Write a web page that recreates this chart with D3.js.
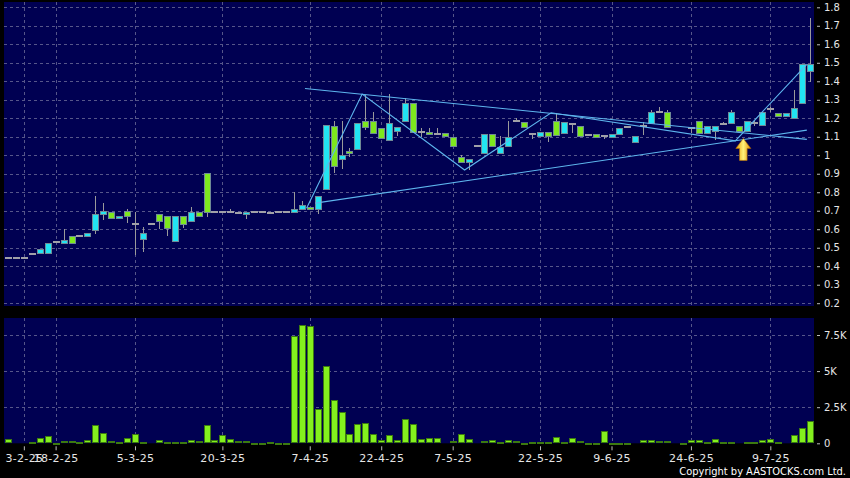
<!DOCTYPE html>
<html><head><meta charset="utf-8">
<script src="https://cdn.jsdelivr.net/npm/d3@7/dist/d3.min.js"></script>
<style>html,body{margin:0;padding:0;background:#000;}svg{display:block;}</style>
</head><body>
<svg id="chart" width="850" height="478"></svg>
<script>
// ---------- DATA ----------
const tickIdx    = [2, 6, 16, 27, 38, 47, 56, 67, 76, 86, 96];
const tickLabels = ["3-2-25","18-2-25","5-3-25","20-3-25","7-4-25","22-4-25","7-5-25","22-5-25","9-6-25","24-6-25","9-7-25"];

const opens = [.447,.447,.443,.464,.470,.470,.530,.528,.561,.564,
 .566,.597,.681,.691,.660,.696,.626,.548,.627,.681,
 .670,.539,.670,.646,.692,.902,.694,.694,.694,.690,
 .680,.694,.694,.690,.694,.694,.691,.707,.720,.707,
 .818,1.159,.978,1.022,1.032,1.183,1.183,1.149,1.080,1.129,
 1.183,1.280,1.127,1.127,1.114,1.118,1.100,.988,.963,1.048,
 1.010,1.113,1.010,1.048,1.186,1.181,1.113,1.104,1.127,1.186,
 1.118,1.168,1.159,1.110,1.113,1.104,1.100,1.113,1.152,1.071,
 1.158,1.172,1.232,1.232,null,null,1.145,1.186,1.118,1.130,
 1.168,1.172,1.159,1.130,1.177,1.161,1.250,1.230,1.212,1.200,
 1.280,1.455];
const closes = [.447,.447,.443,.464,.492,.528,.530,.541,.528,.564,
 .578,.681,.698,.660,.670,.669,.626,.579,.627,.647,
 .609,.670,.626,.692,.669,.694,.694,.694,.694,.690,
 .694,.694,.694,.690,.694,.694,.707,.729,.710,.779,
 1.163,.941,1.000,1.010,1.173,1.152,1.120,1.093,1.173,1.151,
 1.280,1.127,1.127,1.113,1.114,1.104,1.048,.962,.978,1.048,
 1.113,1.048,1.042,1.100,1.186,1.151,1.113,1.127,1.104,1.110,
 1.181,1.168,1.104,1.110,1.100,1.104,1.113,1.150,1.152,1.104,
 1.158,1.232,1.232,1.152,null,null,1.145,1.118,1.159,1.159,
 1.168,1.232,1.130,1.186,1.177,1.232,1.250,1.212,1.230,1.254,
 1.491,1.491];
const highs = [.447,.447,.443,.464,.492,.528,.530,.600,.561,.564,
 .578,.780,.743,.691,.670,.708,.694,.613,.627,.681,
 .670,.670,.670,.718,.692,.902,.694,.694,.707,.690,
 .694,.694,.694,.690,.694,.694,.802,.753,.720,.779,
 1.163,1.186,1.186,1.037,1.173,1.325,1.235,1.149,1.331,1.151,
 1.308,1.280,1.150,1.150,1.150,1.118,1.100,1.000,.978,1.048,
 1.113,1.113,1.104,1.185,1.200,1.181,1.113,1.127,1.127,1.230,
 1.181,1.168,1.159,1.110,1.113,1.104,1.113,1.150,1.152,1.104,
 1.180,1.245,1.259,1.245,null,null,1.150,1.186,1.159,1.159,
 1.180,1.245,1.159,1.186,1.190,1.232,1.260,1.230,1.230,1.352,
 1.491,1.740];
const lows = [.447,.447,.443,.464,.470,.470,.530,.528,.528,.564,
 .559,.573,.649,.660,.660,.635,.460,.478,.627,.600,
 .561,.539,.609,.646,.669,.667,.688,.694,.694,.680,
 .654,.694,.694,.690,.694,.694,.691,.707,.710,.681,
 .818,.902,.925,.989,1.032,1.136,1.120,1.093,1.080,1.104,
 1.183,1.127,1.100,1.113,1.114,1.104,1.048,.962,.920,1.048,
 1.010,1.048,1.010,1.048,1.186,1.151,1.090,1.104,1.070,1.110,
 1.118,1.118,1.104,1.110,1.100,1.090,1.100,1.113,1.152,1.071,
 1.110,1.172,1.232,1.152,null,null,1.118,1.118,1.118,1.082,
 1.168,1.172,1.130,1.130,1.160,1.161,1.235,1.212,1.212,1.200,
 1.280,1.397];
const volumes = [300,0,0,70,350,510,50,160,160,115,
 230,1250,690,140,70,390,650,115,0,230,
 90,70,90,230,140,1300,230,555,300,140,
 140,20,20,90,20,40,7430,8190,8150,2380,
 5350,3000,2150,670,1360,1430,650,230,550,230,
 1660,1360,300,370,370,0,140,620,300,0,
 185,250,70,230,160,30,70,70,70,460,
 70,370,160,30,30,860,40,40,40,0,
 230,230,160,160,0,50,230,230,90,280,
 115,90,0,70,90,230,280,115,0,580,
 1065,1550];

const priceTicks = [0.2,0.3,0.4,0.5,0.6,0.7,0.8,0.9,1.0,1.1,1.2,1.3,1.4,1.5,1.6,1.7,1.8];
const volTicks   = [0, 2500, 5000, 7500];
const volGrid    = [2500, 5000, 7500];

// hand-drawn pattern lines (index, price)
const zigzagIdx   = [37.6, 44.6, 57.5, 68.4, 91.6, 100.6];
const zigzagPrice = [0.714, 1.331, 0.920, 1.230, 1.078, 1.492];
const upperIdx    = [37.4, 100.6];
const upperPrice  = [1.361, 1.086];
const lowerIdx    = [38.7, 100.6];
const lowerPrice  = [0.741, 1.136];
const arrowIdx    = 92.6;
const arrowPrice  = 1.091;

// ---------- LAYOUT ----------
const svg = d3.select("#chart");
const L = 4, R = 814;
const mainTop = 2, mainBot = 306;
const volTop = 318, volBot = 443.3;

const x  = d3.scaleLinear().domain([-0.5, 101.5]).range([L, R]);
const yP = d3.scaleLinear().domain([0.2, 1.8]).range([303.2, 7.3]);
const yV = d3.scaleLinear().domain([0, 7500]).range([volBot, 335]);

const NAVY = "#000052", GRID = "#56568a", TXT = "#e6e6e6";
const CYAN = "#22e4f2", GREEN = "#7ee81e", VOLG = "#84f01e";

svg.append("rect").attr("width",850).attr("height",478).attr("fill","#000");
svg.append("rect").attr("x",L).attr("y",mainTop).attr("width",R-L).attr("height",mainBot-mainTop).attr("fill",NAVY);
svg.append("rect").attr("x",L).attr("y",volTop).attr("width",R-L).attr("height",volBot-volTop).attr("fill",NAVY);

// grids
const g = svg.append("g").attr("stroke",GRID).attr("stroke-width",1).attr("stroke-dasharray","3,3").attr("shape-rendering","crispEdges");
g.selectAll(".hp").data(priceTicks).join("line")
  .attr("x1",L).attr("x2",R).attr("y1",d=>Math.round(yP(d))+0.5).attr("y2",d=>Math.round(yP(d))+0.5);
g.selectAll(".hv").data(volGrid).join("line").attr("class","hv")
  .attr("x1",L).attr("x2",R).attr("y1",d=>Math.round(yV(d))+0.5).attr("y2",d=>Math.round(yV(d))+0.5);
g.selectAll(".vm").data(tickIdx).join("line").attr("class","vm")
  .attr("x1",d=>Math.round(x(d))+0.5).attr("x2",d=>Math.round(x(d))+0.5).attr("y1",mainTop).attr("y2",mainBot);
g.selectAll(".vv").data(tickIdx).join("line").attr("class","vv")
  .attr("x1",d=>Math.round(x(d))+0.5).attr("x2",d=>Math.round(x(d))+0.5).attr("y1",volTop).attr("y2",volBot);

// candles
const idx = d3.range(opens.length).filter(i => opens[i] !== null);
const cg = svg.append("g").attr("shape-rendering","crispEdges");
cg.selectAll(".wick").data(idx.filter(i => highs[i] > lows[i])).join("line")
  .attr("x1",i=>Math.round(x(i))+0.5).attr("x2",i=>Math.round(x(i))+0.5)
  .attr("y1",i=>yP(highs[i])).attr("y2",i=>yP(lows[i]))
  .attr("stroke","#9a9a9a").attr("stroke-width",1);
cg.selectAll(".body").data(idx).join("rect")
  .attr("x",i=>Math.round(x(i))-3+0.5)
  .attr("width",6)
  .attr("y",i=>{const t=yP(Math.max(opens[i],closes[i])); return opens[i]===closes[i] ? Math.round(t)-0.5 : Math.round(t)+0.5;})
  .attr("height",i=>{const h=Math.round(yP(Math.min(opens[i],closes[i])))-Math.round(yP(Math.max(opens[i],closes[i]))); return opens[i]===closes[i] ? 1 : Math.max(1,h);})
  .attr("fill",i=> opens[i]===closes[i] ? "#a0a0a8" : (closes[i]>opens[i] ? CYAN : GREEN))
  .attr("stroke",i=> opens[i]===closes[i] ? "#a0a0a8" : "#6f8a96")
  .attr("stroke-width",1);

// pattern lines
const ln = d3.line().x(d=>x(d[0])).y(d=>yP(d[1]));
const lg = svg.append("g").attr("fill","none").attr("stroke","#5eb6ee").attr("stroke-width",1.1);
lg.append("path").attr("d", ln(zigzagIdx.map((v,k)=>[v,zigzagPrice[k]])));
lg.append("path").attr("d", ln(upperIdx.map((v,k)=>[v,upperPrice[k]])));
lg.append("path").attr("d", ln(lowerIdx.map((v,k)=>[v,lowerPrice[k]])));

// arrow
const defs = svg.append("defs");
const gr = defs.append("linearGradient").attr("id","ag").attr("x1","0").attr("x2","1").attr("y1","0").attr("y2","0");
gr.append("stop").attr("offset","0").attr("stop-color","#e89a00");
gr.append("stop").attr("offset","0.5").attr("stop-color","#fff27a");
gr.append("stop").attr("offset","1").attr("stop-color","#e08800");
const ax = x(arrowIdx), ay = yP(arrowPrice);
svg.append("path")
  .attr("d", `M${ax},${ay} L${ax+7.5},${ay+10} L${ax+3.8},${ay+10} L${ax+3.8},${ay+22} L${ax-3.8},${ay+22} L${ax-3.8},${ay+10} L${ax-7.5},${ay+10} Z`)
  .attr("fill","url(#ag)").attr("stroke","#b87000").attr("stroke-width",0.6);

// volume bars
const vg = svg.append("g").attr("shape-rendering","crispEdges");
vg.selectAll("rect").data(d3.range(volumes.length).filter(i=>volumes[i]>0)).join("rect")
  .attr("x",i=>Math.round(x(i))-3+0.5).attr("width",6)
  .attr("y",i=>Math.round(yV(volumes[i]))+0.5)
  .attr("height",i=>Math.max(1, Math.round(volBot)-Math.round(yV(volumes[i]))-1))
  .attr("fill",VOLG).attr("stroke","#3c7a10").attr("stroke-width",1);

// axes
const styleAxis = sel => {
  sel.select(".domain").remove();
  sel.selectAll(".tick line").attr("stroke","#bbbbbb");
  sel.selectAll(".tick text").attr("fill",TXT).attr("font-family","'DejaVu Sans', sans-serif");
};
svg.append("g").attr("transform",`translate(817,0)`)
  .call(d3.axisRight(yP).tickValues(priceTicks).tickSize(3).tickPadding(4).tickFormat(d=>String(+d.toFixed(1))))
  .call(styleAxis).selectAll("text").attr("font-size",10);
svg.append("g").attr("transform",`translate(817,0)`)
  .call(d3.axisRight(yV).tickValues(volTicks).tickSize(3).tickPadding(4).tickFormat(d=>d===0?"0":(d/1000)+"K"))
  .call(styleAxis).selectAll("text").attr("font-size",10);
svg.append("g").attr("transform",`translate(0,${volBot+3})`)
  .call(d3.axisBottom(x).tickValues(tickIdx).tickSize(4).tickPadding(4).tickFormat((d,k)=>tickLabels[k]))
  .call(styleAxis).selectAll("text").attr("font-size",11).attr("letter-spacing","0.3px");

svg.append("text").attr("x",846).attr("y",475).attr("text-anchor","end")
  .attr("fill","#ffffff").attr("font-family","'DejaVu Sans Condensed','DejaVu Sans',sans-serif")
  .attr("font-size",11).text("Copyright by AASTOCKS.com Ltd.");
</script>
</body></html>
